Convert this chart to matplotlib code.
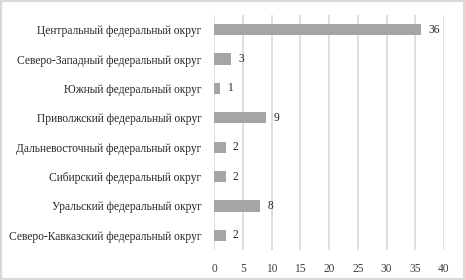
import matplotlib.pyplot as plt
from matplotlib.patches import Rectangle

districts = [
    "Центральный федеральный округ",
    "Северо-Западный федеральный округ",
    "Южный федеральный округ",
    "Приволжский федеральный округ",
    "Дальневосточный федеральный округ",
    "Сибирский федеральный округ",
    "Уральский федеральный округ",
    "Северо-Кавказский федеральный округ",
]
counts = [36, 3, 1, 9, 2, 2, 8, 2]
x_ticks = [0, 5, 10, 15, 20, 25, 30, 35, 40]

plt.rcParams["font.family"] = ["Liberation Serif", "DejaVu Serif"]

fig = plt.figure(figsize=(4.65, 2.8), dpi=100)
ax = fig.add_axes([214 / 465, 30 / 280, 230 / 465, 235 / 280])

y = list(range(len(districts)))
bars = ax.barh(y, counts, height=0.38, color="#a5a5a5", zorder=3)

for bar, val in zip(bars, counts):
    ax.text(
        bar.get_width() + 1.3,
        bar.get_y() + bar.get_height() / 2,
        str(val),
        ha="left",
        va="center",
        fontsize=8.3,
        color="#262626",
    )

ax.set_ylim(len(districts) - 0.5, -0.5)
ax.set_xlim(0, 40)
ax.set_yticks(y)
ax.set_yticklabels(districts, fontsize=8.3, color="#262626")
ax.set_xticks(x_ticks)
ax.set_xticklabels([str(t) for t in x_ticks], fontsize=8.3, color="#404040")
ax.tick_params(axis="both", length=0, pad=9)
ax.grid(axis="x", color="#d9d9d9", linewidth=1.2, zorder=0)
for s in ax.spines.values():
    s.set_visible(False)

# light border round the chart
fig.patches.append(
    Rectangle((0.002, 0.003), 0.995, 0.993, transform=fig.transFigure,
              fill=False, edgecolor="#d9d9d9", linewidth=1.5)
)

plt.savefig("out.png", dpi=100)
plt.close()
